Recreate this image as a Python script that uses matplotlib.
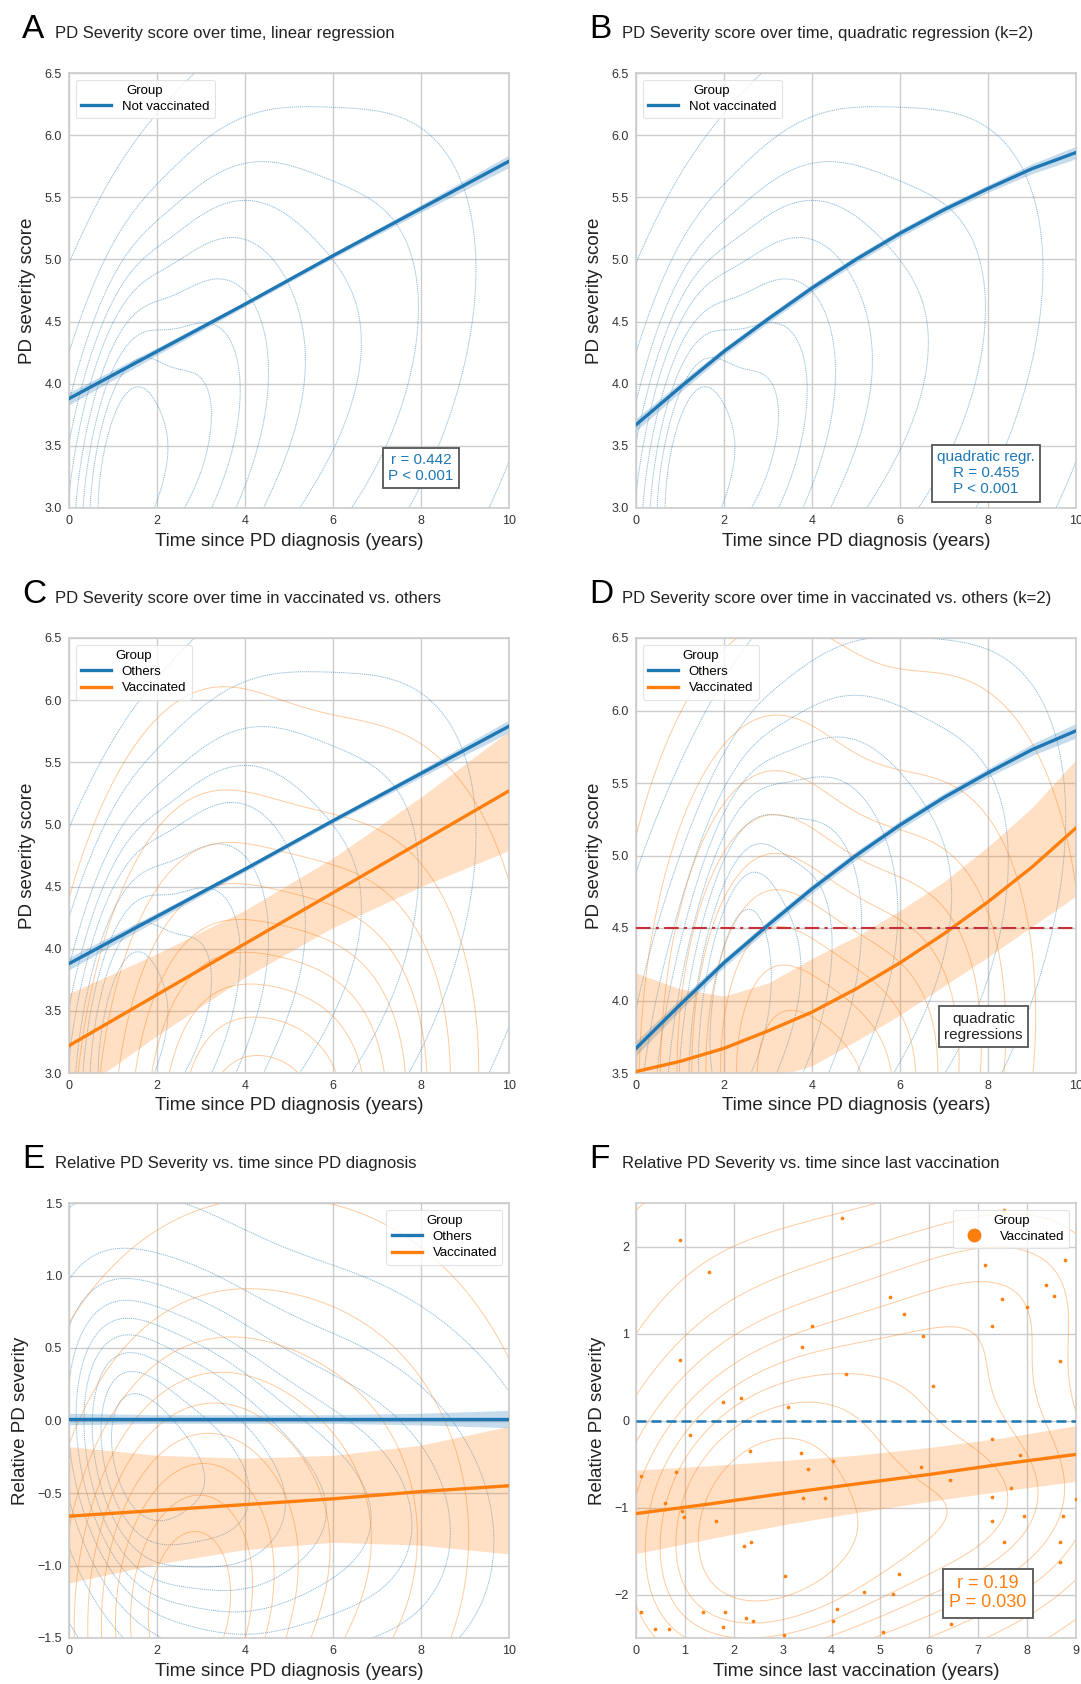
import numpy as np
import matplotlib
matplotlib.use('Agg')
import matplotlib.pyplot as plt
from matplotlib.lines import Line2D

plt.rcParams['font.family'] = ['Liberation Sans', 'DejaVu Sans']

BLUE = '#1f77b4'
ORANGE = '#ff7f0e'

##-----------DATA-----------##
years = [0, 2, 4, 6, 8, 10]
years_q = [0, 1, 2, 3, 4, 5, 6, 7, 8, 9, 10]

# A / C : linear regression, not vaccinated / others
lin_others = [3.88, 4.26, 4.64, 5.03, 5.41, 5.79]
lin_others_lo = [3.83, 4.23, 4.62, 5.01, 5.38, 5.74]
lin_others_hi = [3.93, 4.29, 4.66, 5.05, 5.44, 5.84]

# B / D : quadratic regression, not vaccinated / others
quad_others = [3.67, 3.97, 4.26, 4.52, 4.77, 5.00, 5.21, 5.40, 5.57, 5.73, 5.86]
quad_others_lo = [3.62, 3.93, 4.23, 4.49, 4.74, 4.97, 5.18, 5.37, 5.54, 5.69, 5.81]
quad_others_hi = [3.72, 4.01, 4.29, 4.55, 4.80, 5.03, 5.24, 5.43, 5.60, 5.77, 5.91]

# C : linear regression, vaccinated
lin_vacc = [3.22, 3.63, 4.04, 4.45, 4.86, 5.27]
lin_vacc_lo = [2.80, 3.30, 3.77, 4.17, 4.50, 4.79]
lin_vacc_hi = [3.64, 3.96, 4.31, 4.73, 5.22, 5.75]

# D : quadratic regression, vaccinated
quad_vacc = [3.51, 3.58, 3.67, 3.79, 3.92, 4.08, 4.26, 4.46, 4.68, 4.92, 5.19]
quad_vacc_lo = [2.83, 3.08, 3.31, 3.46, 3.55, 3.72, 3.90, 4.10, 4.30, 4.51, 4.72]
quad_vacc_hi = [4.19, 4.08, 4.03, 4.12, 4.29, 4.44, 4.62, 4.82, 5.06, 5.33, 5.66]
severity_threshold = 4.5

# E : relative severity vs time since diagnosis
rel_others = [0.01, 0.01, 0.01, 0.01, 0.01, 0.01]
rel_others_lo = [-0.03, -0.02, -0.02, -0.02, -0.03, -0.05]
rel_others_hi = [0.05, 0.04, 0.04, 0.04, 0.05, 0.07]
rel_vacc = [-0.66, -0.62, -0.58, -0.54, -0.49, -0.45]
rel_vacc_lo = [-1.12, -0.99, -0.89, -0.84, -0.86, -0.92]
rel_vacc_hi = [-0.18, -0.24, -0.26, -0.24, -0.17, -0.04]

# F : relative severity vs time since last vaccination
vax_years = [0, 1.5, 3, 4.5, 6, 7.5, 9]
vax_line = [-1.07, -0.96, -0.84, -0.73, -0.62, -0.50, -0.39]
vax_lo = [-1.53, -1.36, -1.20, -1.06, -0.93, -0.81, -0.70]
vax_hi = [-0.57, -0.52, -0.46, -0.40, -0.31, -0.20, -0.06]
vax_pts_x = [0.90, 1.49, 4.22, 5.20, 5.49, 5.87, 3.59, 3.40, 0.90, 4.29, 6.07, 1.77, 2.15, 3.10,
			 7.14, 7.49, 7.29, 8.00, 8.38, 8.56, 8.77, 8.68, 7.53, 0.11, 1.10, 0.81, 0.60, 0.95,
			 0.98, 1.63, 2.34, 3.37, 3.51, 4.03, 3.41, 3.86, 5.83, 6.42, 7.28, 7.86, 7.68, 7.28,
			 7.28, 7.93, 8.73, 8.99, 7.53, 8.67, 8.67, 2.21, 2.35, 3.05, 5.37, 4.66, 5.25, 0.11,
			 0.39, 0.67, 1.37, 1.83, 1.77, 2.26, 2.40, 3.02, 4.11, 4.02, 5.06, 6.44]
vax_pts_y = [2.08, 1.71, 2.33, 1.42, 1.22, 0.97, 1.09, 0.84, 0.69, 0.53, 0.40, 0.21, 0.26, 0.15,
			 1.79, 1.40, 1.09, 1.30, 1.56, 1.43, 1.85, 0.68, 2.42, -0.64, -0.17, -0.59, -0.95, -1.04,
			 -1.11, -1.16, -0.35, -0.37, -0.56, -0.47, -0.89, -0.89, -0.53, -0.68, -0.21, -0.40, -0.78, -0.88,
			 -1.16, -1.10, -1.10, -0.90, -1.40, -1.40, -1.63, -1.44, -1.40, -1.79, -1.77, -1.97, -1.99, -2.20,
			 -2.40, -2.40, -2.20, -2.20, -2.37, -2.27, -2.30, -2.47, -2.17, -2.31, -2.43, -2.34]

# density components behind the KDE contours (centre x, centre y, sd x, sd y, corr, weight)
dens_others_AC = [(1.1, 3.3, 0.6, 0.8, 0.4, 0.10), (2.2, 3.4, 1.5, 1.2, 0.5, 0.40),
				  (5.0, 3.9, 3.0, 1.6, 0.45, 0.50)]
dens_others_D = [(2.2, 4.1, 0.6, 0.7, 0.4, 0.10), (2.8, 3.9, 1.5, 1.1, 0.5, 0.40),
				 (5.5, 4.3, 3.0, 1.5, 0.45, 0.50)]
dens_vacc_C = [(4.5, 2.3, 2.2, 1.4, 0.15, 0.60), (2.5, 3.3, 1.6, 1.5, 0.2, 0.20), (7.0, 3.0, 2.0, 1.5, 0.1, 0.20)]
dens_vacc_D = [(4.3, 3.0, 2.0, 1.2, 0.15, 0.55), (2.5, 4.2, 1.5, 1.2, 0.2, 0.25), (7.0, 3.9, 1.8, 1.3, 0.1, 0.20)]
dens_rel_others = [(1.3, -0.2, 0.8, 0.6, -0.3, 0.10), (2.5, -0.3, 1.7, 0.8, -0.3, 0.45), (6.0, -0.6, 2.5, 0.8, -0.2, 0.45)]
dens_rel_vacc = [(2.5, -1.4, 1.5, 0.9, 0.1, 0.5), (5.0, -0.8, 2.8, 1.1, 0.0, 0.5)]
kde_bw_adjust = 1.4


##-----------HELPERS-----------##
def mixture(xx, yy, comps):
	z = np.zeros_like(xx)
	for mx, my, sx, sy, r, w in comps:
		dx = (xx - mx)/sx; dy = (yy - my)/sy
		q = (dx**2 - 2*r*dx*dy + dy**2)/(1 - r**2)
		z += w*np.exp(-q/2)/(2*np.pi*sx*sy*np.sqrt(1 - r**2))
	return z

def kde(xx, yy, px, py, adjust):
	data = np.vstack([px, py])
	n = data.shape[1]
	cov = np.cov(data)*(n**(-1/6)*adjust)**2
	inv = np.linalg.inv(cov)
	z = np.zeros_like(xx)
	for i in range(n):
		dx = xx - data[0, i]; dy = yy - data[1, i]
		q = inv[0, 0]*dx**2 + 2*inv[0, 1]*dx*dy + inv[1, 1]*dy**2
		z += np.exp(-q/2)
	return z

def iso_levels(z):
	vals = np.sort(z.ravel())[::-1]
	cum = np.cumsum(vals)/vals.sum()
	props = np.linspace(0.05, 1, 10)
	idx = np.searchsorted(cum, 1 - props)
	return np.unique(np.take(vals, idx, mode='clip'))

def contours(ax, z, xx, yy, color, dotted):
	cs = ax.contour(xx, yy, z, levels=iso_levels(z), colors=color, linewidths=0.7,
					alpha=0.5 if dotted else 0.4, zorder=1)
	if dotted:
		cs.set_linestyle((0, (1.2, 0.8)))

def grid_for(xlim, ylim):
	gx = np.linspace(xlim[0] - 6, xlim[1] + 6, 320)
	gy = np.linspace(ylim[0] - 3, ylim[1] + 3, 320)
	return np.meshgrid(gx, gy)

def style(ax, xlim, ylim, xticks, yticks, xlabel, ylabel):
	ax.set_xlim(xlim); ax.set_ylim(ylim)
	ax.set_xticks(xticks); ax.set_yticks(yticks)
	ax.grid(True, color='#cccccc', lw=1.0)
	ax.set_axisbelow(True)
	for s in ax.spines.values():
		s.set_color('#cccccc'); s.set_linewidth(1.2)
	ax.tick_params(length=0, pad=5, labelsize=9, labelcolor='#333333')
	ax.set_xlabel(xlabel, fontsize=13.5, color='#222222', labelpad=4)
	ax.set_ylabel(ylabel, fontsize=13.5, color='#222222', labelpad=6)

def band_line(ax, x, y, lo, hi, color, alpha):
	ax.fill_between(x, lo, hi, color=color, alpha=alpha, lw=0, zorder=2)
	ax.plot(x, y, color=color, lw=2.4, zorder=3, solid_joinstyle='round')

def legend(ax, labels, colors, loc, marker=False):
	if marker:
		h = [Line2D([], [], color=c, marker='o', ls='', markersize=9) for c in colors]
	else:
		h = [Line2D([], [], color=c, lw=2.4) for c in colors]
	lg = ax.legend(h, labels, title='Group', loc=loc, fontsize=9.5, title_fontsize=9.5,
				   frameon=True, fancybox=True, borderpad=0.4, handlelength=2.3, labelspacing=0.3)
	lg.get_frame().set_edgecolor('#dddddd')
	lg.get_frame().set_linewidth(0.8)
	lg.set_zorder(5)

def textbox(ax, x, y, s, color, size):
	ax.text(x, y, s, transform=ax.transAxes, ha='center', va='center', color=color, fontsize=size,
			linespacing=1.2, zorder=6,
			bbox=dict(boxstyle='square,pad=0.35', fc='white', ec='#555555', lw=1.3))


##-----------FIGURE-----------##
W, H = 1081, 1684
fig = plt.figure(figsize=(W/100, H/100), dpi=100)
col_x = [69, 636]
row_top = [73, 638, 1203]
aw, ah = 440, 435
axes = {}
for r, row in enumerate(['AB', 'CD', 'EF']):
	for c, key in enumerate(row):
		axes[key] = fig.add_axes([col_x[c]/W, (H - row_top[r] - ah)/H, aw/W, ah/H])

titles = {'A': 'PD Severity score over time, linear regression',
		  'B': 'PD Severity score over time, quadratic regression (k=2)',
		  'C': 'PD Severity score over time in vaccinated vs. others',
		  'D': 'PD Severity score over time in vaccinated vs. others (k=2)',
		  'E': 'Relative PD Severity vs. time since PD diagnosis',
		  'F': 'Relative PD Severity vs. time since last vaccination'}
for r, row in enumerate(['AB', 'CD', 'EF']):
	for c, key in enumerate(row):
		base = 1 - (row_top[r] - 35)/H
		fig.text((col_x[c] - 47)/W, base, key, fontsize=24, va='baseline', ha='left')
		fig.text((col_x[c] - 14)/W, base, titles[key], fontsize=12, va='baseline', ha='left', color='#222222')

xdiag = 'Time since PD diagnosis (years)'

# A
ax = axes['A']
xx, yy = grid_for((0, 10), (3, 6.5))
contours(ax, mixture(xx, yy, dens_others_AC), xx, yy, BLUE, True)
band_line(ax, years, lin_others, lin_others_lo, lin_others_hi, BLUE, 0.25)
style(ax, (0, 10), (3.0, 6.5), years, np.arange(3.0, 6.51, 0.5), xdiag, 'PD severity score')
legend(ax, ['Not vaccinated'], [BLUE], 'upper left')
textbox(ax, 0.80, 0.092, 'r = 0.442\nP < 0.001', BLUE, 11)

# B
ax = axes['B']
contours(ax, mixture(xx, yy, dens_others_AC), xx, yy, BLUE, True)
band_line(ax, years_q, quad_others, quad_others_lo, quad_others_hi, BLUE, 0.25)
style(ax, (0, 10), (3.0, 6.5), years, np.arange(3.0, 6.51, 0.5), xdiag, 'PD severity score')
legend(ax, ['Not vaccinated'], [BLUE], 'upper left')
textbox(ax, 0.795, 0.08, 'quadratic regr.\nR = 0.455\nP < 0.001', BLUE, 11)

# C
ax = axes['C']
contours(ax, mixture(xx, yy, dens_others_AC), xx, yy, BLUE, True)
contours(ax, mixture(xx, yy, dens_vacc_C), xx, yy, ORANGE, False)
band_line(ax, years, lin_others, lin_others_lo, lin_others_hi, BLUE, 0.25)
band_line(ax, years, lin_vacc, lin_vacc_lo, lin_vacc_hi, ORANGE, 0.24)
style(ax, (0, 10), (3.0, 6.5), years, np.arange(3.0, 6.51, 0.5), xdiag, 'PD severity score')
legend(ax, ['Others', 'Vaccinated'], [BLUE, ORANGE], 'upper left')

# D
ax = axes['D']
xx, yy = grid_for((0, 10), (3.5, 6.5))
contours(ax, mixture(xx, yy, dens_others_D), xx, yy, BLUE, True)
contours(ax, mixture(xx, yy, dens_vacc_D), xx, yy, ORANGE, False)
band_line(ax, years_q, quad_others, quad_others_lo, quad_others_hi, BLUE, 0.25)
band_line(ax, years_q, quad_vacc, quad_vacc_lo, quad_vacc_hi, ORANGE, 0.24)
ax.axhline(severity_threshold, color='#c8303a', lw=1.5, ls=(0, (7, 2.5, 1.5, 2.5)), zorder=4)
style(ax, (0, 10), (3.5, 6.5), years, np.arange(3.5, 6.51, 0.5), xdiag, 'PD severity score')
legend(ax, ['Others', 'Vaccinated'], [BLUE, ORANGE], 'upper left')
textbox(ax, 0.79, 0.106, 'quadratic\nregressions', '#222222', 11)

# E
ax = axes['E']
xx, yy = grid_for((0, 10), (-1.5, 1.5))
contours(ax, mixture(xx, yy, dens_rel_others), xx, yy, BLUE, True)
contours(ax, mixture(xx, yy, dens_rel_vacc), xx, yy, ORANGE, False)
band_line(ax, years, rel_others, rel_others_lo, rel_others_hi, BLUE, 0.25)
band_line(ax, years, rel_vacc, rel_vacc_lo, rel_vacc_hi, ORANGE, 0.24)
style(ax, (0, 10), (-1.5, 1.5), years, np.arange(-1.5, 1.51, 0.5), xdiag, 'Relative PD severity')
legend(ax, ['Others', 'Vaccinated'], [BLUE, ORANGE], 'upper right')

# F
ax = axes['F']
xx, yy = grid_for((0, 9), (-2.5, 2.5))
contours(ax, kde(xx, yy, vax_pts_x, vax_pts_y, kde_bw_adjust), xx, yy, ORANGE, False)
ax.scatter(vax_pts_x, vax_pts_y, s=7, color=ORANGE, lw=0, zorder=4)
band_line(ax, vax_years, vax_line, vax_lo, vax_hi, ORANGE, 0.24)
ax.axhline(0, color=BLUE, lw=1.8, ls=(0, (4, 2)), zorder=4)
style(ax, (0, 9), (-2.5, 2.5), range(10), [-2, -1, 0, 1, 2], 'Time since last vaccination (years)', 'Relative PD severity')
legend(ax, ['Vaccinated'], [ORANGE], 'upper right', marker=True)
textbox(ax, 0.80, 0.103, 'r = 0.19\nP = 0.030', ORANGE, 13)

fig.savefig('out.png', dpi=100)
